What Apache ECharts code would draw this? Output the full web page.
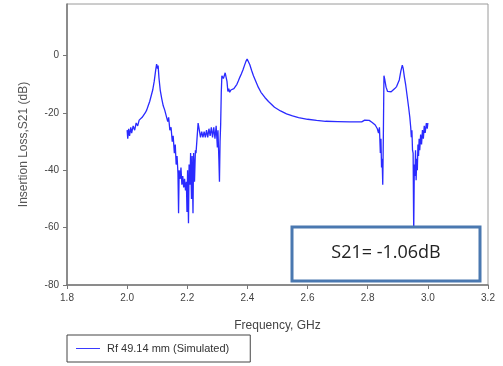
<!DOCTYPE html>
<html>
<head>
<meta charset="utf-8">
<script src="https://cdn.jsdelivr.net/npm/echarts@6/dist/echarts.min.js"></script>
<style>
    html, body { margin: 0; padding: 0; background: #fff; }
    #chart { width: 503px; height: 366px; }
</style>
</head>
<body>
<div id="chart"></div>
<script>
// frequency points (GHz) and insertion loss S21 (dB)
const freqGHz = [
    2.000, 2.002, 2.005, 2.008, 2.012, 2.015, 2.020, 2.025, 2.030, 2.035,
    2.040, 2.045, 2.050, 2.055, 2.060, 2.065, 2.070, 2.075, 2.080, 2.085,
    2.090, 2.095, 2.098, 2.101, 2.103, 2.106, 2.110, 2.115, 2.120, 2.125,
    2.130, 2.135, 2.138, 2.142, 2.146, 2.150, 2.153, 2.157, 2.160, 2.163,
    2.166, 2.169, 2.171, 2.173, 2.176, 2.179, 2.182, 2.185, 2.188, 2.191,
    2.194, 2.197, 2.199, 2.201, 2.204, 2.206, 2.209, 2.211, 2.214, 2.216,
    2.219, 2.221, 2.224, 2.227, 2.229, 2.233, 2.236, 2.240, 2.244, 2.248,
    2.252, 2.256, 2.260, 2.264, 2.268, 2.272, 2.276, 2.280, 2.284, 2.288,
    2.292, 2.296, 2.300, 2.302, 2.305, 2.307, 2.309, 2.311, 2.313, 2.315,
    2.317, 2.320, 2.323, 2.326, 2.329, 2.332, 2.335, 2.338, 2.341, 2.345,
    2.350, 2.355, 2.360, 2.365, 2.370, 2.375, 2.380, 2.385, 2.390, 2.395,
    2.399, 2.403, 2.408, 2.414, 2.420, 2.428, 2.436, 2.445, 2.458, 2.470,
    2.490, 2.510, 2.530, 2.550, 2.570, 2.600, 2.630, 2.660, 2.700, 2.740,
    2.780, 2.790, 2.796, 2.805, 2.815, 2.825, 2.832, 2.836, 2.839, 2.842,
    2.844, 2.846, 2.848, 2.850, 2.852, 2.854, 2.857, 2.861, 2.866, 2.872,
    2.878, 2.884, 2.890, 2.896, 2.900, 2.905, 2.910, 2.915, 2.918, 2.922,
    2.926, 2.931, 2.936, 2.940, 2.943, 2.945, 2.947, 2.949, 2.951, 2.953,
    2.955, 2.957, 2.959, 2.961, 2.963, 2.965, 2.967, 2.969, 2.971, 2.973,
    2.976, 2.979, 2.982, 2.985, 2.988, 2.991, 2.995, 2.998, 3.000
]
const s21dB = [
    -26, -29, -25.5, -28, -25, -27, -24.5, -26, -23.5, -24.5,
    -22.5, -23, -21.5, -21, -20, -19, -17.5, -16, -14, -12,
    -9, -5, -3, -4.5, -3.5, -8, -12, -15, -17.5, -19,
    -21, -23, -21.5, -26, -25, -30, -28, -34, -31, -38,
    -35, -41, -55, -40, -43, -39, -45, -42, -46, -43,
    -47, -44, -54.5, -40, -58.5, -38, -45, -34, -50, -35,
    -55, -34, -44, -33, -34, -28, -23.5, -26, -28.5, -26.5,
    -28.5, -26.5, -28.5, -26, -28.5, -25.5, -28, -25, -28.5, -25,
    -29, -24.5, -32, -26, -36, -44, -30, -24, -13, -7,
    -6.5, -8, -7, -6, -5.8, -9, -12.5, -11.5, -12.8, -12,
    -12.3, -11.5, -11, -10, -8.8, -7.5, -6.3, -5, -3.5, -2,
    -1.2, -1.8, -3.2, -5.2, -7, -9, -11, -12.8, -14.6, -16,
    -18, -19.3, -20.3, -21, -21.6, -22.2, -22.6, -22.9, -23, -23.1,
    -23.1, -22.5, -22, -22.6, -23.3, -24.2, -25.5, -27, -25, -34,
    -29, -39, -36, -45, -28, -7, -8.5, -11, -12.5, -12.8,
    -12.6, -12.2, -11.5, -10.8, -10.3, -8.5, -5.5, -3.3, -4.5, -7.5,
    -10, -14, -18, -21.5, -25, -28.5, -26, -33, -34, -62,
    -38, -42, -33, -43.5, -36, -40, -31, -35, -29, -33,
    -27.5, -31, -26, -29, -24.5, -27, -23.5, -25.5, -23.5
]
const yTicks = [-80, -60, -40, -20, 0]
const seriesName = 'Rf 49.14 mm (Simulated)'
const noteText = 'S21= -1.06dB'

const chartInstance = echarts.init(document.getElementById('chart'))
const lineData = freqGHz.map((f, i) => [f, s21dB[i]])

const option = {
    animation: false,
    textStyle: { fontFamily: 'Liberation Sans' },
    grid: {
        left: 67,
        right: 15,
        top: 4,
        bottom: 81,
        show: true,
        borderColor: '#9a9a9a',
        borderWidth: 1
    },
    xAxis: {
        type: 'value',
        min: 1.8,
        max: 3.2,
        interval: 0.2,
        name: 'Frequency, GHz',
        nameLocation: 'middle',
        nameGap: 35,
        nameTextStyle: { fontSize: 12, color: '#444' },
        axisLine: { onZero: false, lineStyle: { color: '#777', width: 1.5 } },
        axisTick: { show: true, length: 4, lineStyle: { color: '#777' } },
        axisLabel: {
            fontSize: 10,
            color: '#444',
            margin: 8,
            formatter: v => v.toFixed(1)
        },
        splitLine: { show: false }
    },
    yAxis: {
        type: 'value',
        min: -80,
        max: 18,
        name: 'Insertion Loss,S21 (dB)',
        nameLocation: 'middle',
        nameGap: 37,
        nameTextStyle: { fontSize: 12, color: '#555' },
        axisLine: { lineStyle: { color: '#777', width: 1.5 } },
        axisTick: { show: true, length: 4, customValues: yTicks, lineStyle: { color: '#777' } },
        axisLabel: { fontSize: 10, color: '#444', margin: 8, customValues: yTicks },
        splitLine: { show: false }
    },
    legend: {
        left: 67,
        top: 335,
        orient: 'horizontal',
        data: [{ name: seriesName, icon: 'rect' }],
        borderColor: '#444',
        borderWidth: 1,
        padding: [8, 21, 8, 9],
        itemWidth: 24,
        itemHeight: 1,
        itemGap: 6,
        textStyle: { fontSize: 11, color: '#333', padding: [0, 0, 0, 2] }
    },
    series: [
        {
            name: seriesName,
            type: 'line',
            data: lineData,
            symbol: 'none',
            z: 2,
            lineStyle: { color: '#2a2aff', width: 1.3 },
            itemStyle: { color: '#3a3aff' }
        }
    ],
    graphic: [
        {
            type: 'rect',
            z: 100,
            shape: { x: 292, y: 227, width: 188, height: 54 },
            style: { fill: '#fff', stroke: '#4a78b0', lineWidth: 3 }
        },
        {
            type: 'text',
            z: 101,
            x: 386,
            y: 253,
            style: {
                text: noteText,
                fontFamily: 'Open Sans',
                fontSize: 18,
                fill: '#222',
                align: 'center',
                verticalAlign: 'middle'
            }
        }
    ]
}
chartInstance.setOption(option)
</script>
</body>
</html>
